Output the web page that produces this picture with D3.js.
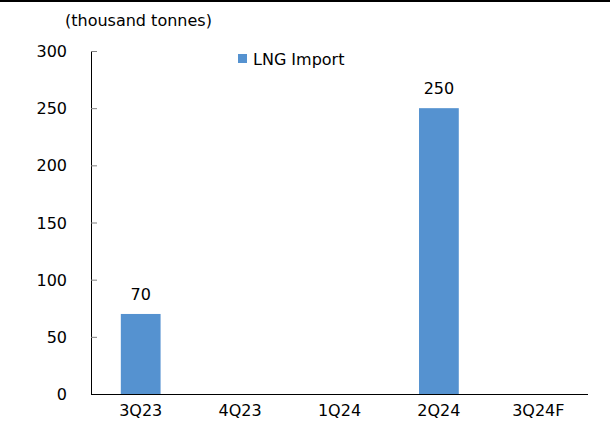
<!DOCTYPE html>
<html><head><meta charset="utf-8">
<script src="https://cdn.jsdelivr.net/npm/d3@7"></script>
<style>body{margin:0;background:#fff}svg{display:block}text{font-family:"DejaVu Sans",sans-serif;fill:#000}</style>
</head><body><svg id="c" width="610" height="426"></svg>
<script>
const categories = ["3Q23","4Q23","1Q24","2Q24","3Q24F"];
const values = [70, null, null, 250, null];
const yTicks = [0,50,100,150,200,250,300];
const seriesName = "LNG Import";
const unitLabel = "(thousand tonnes)";

const svg = d3.select("#c");
const m = {l:91, r:22, t:51, b:32};
const W = 610, H = 426;
const FS = 16;
const xb = d3.scaleBand().domain(categories).range([m.l, W-m.r]);
const y = d3.scaleLinear().domain([0,300]).range([H-m.b, m.t]);

svg.append("line").attr("x1",0).attr("x2",W).attr("y1",1).attr("y2",1).attr("stroke","#000").attr("stroke-width",2);

const ya = svg.append("g").attr("transform",`translate(${m.l},0)`)
  .call(d3.axisRight(y).tickValues(yTicks).tickSize(6).tickFormat(d3.format("d")));
ya.select(".domain").attr("stroke","#000").attr("d",`M0.5,${y(300)}V${y(0)}`);
ya.selectAll(".tick line").attr("stroke","#808080");
ya.selectAll(".tick text").attr("x",-24).attr("text-anchor","end").attr("font-size",FS).attr("dy","0.35em").style("font-family","DejaVu Sans");

const barData = categories.map((c,i)=>({c,v:values[i]})).filter(d=>d.v!=null);
svg.selectAll("rect.bar").data(barData)
  .enter().append("rect").attr("class","bar")
  .attr("x",d=>xb(d.c)+xb.bandwidth()*0.3).attr("width",xb.bandwidth()*0.4)
  .attr("y",d=>y(d.v)).attr("height",d=>y(0)-y(d.v)).attr("fill","#5592D0");

svg.selectAll("text.val").data(barData)
  .enter().append("text").attr("class","val")
  .attr("x",d=>xb(d.c)+xb.bandwidth()/2).attr("y",d=>y(d.v)-14)
  .attr("text-anchor","middle").attr("font-size",FS).text(d=>d.v);

const xa = svg.append("g").attr("transform",`translate(0,${y(0)})`)
  .call(d3.axisBottom(xb).tickSize(0).tickPadding(11));
xa.select(".domain").attr("stroke","#000").attr("d",`M${m.l},0.5H${W-m.r}`);
xa.selectAll(".tick text").attr("font-size",FS).style("font-family","DejaVu Sans");

svg.append("text").attr("x",65).attr("y",26).attr("font-size",FS).text(unitLabel);

svg.append("rect").attr("x",238).attr("y",54).attr("width",9).attr("height",9).attr("fill","#5592D0");
svg.append("text").attr("x",253).attr("y",65).attr("font-size",FS).text(seriesName);
</script></body></html>
